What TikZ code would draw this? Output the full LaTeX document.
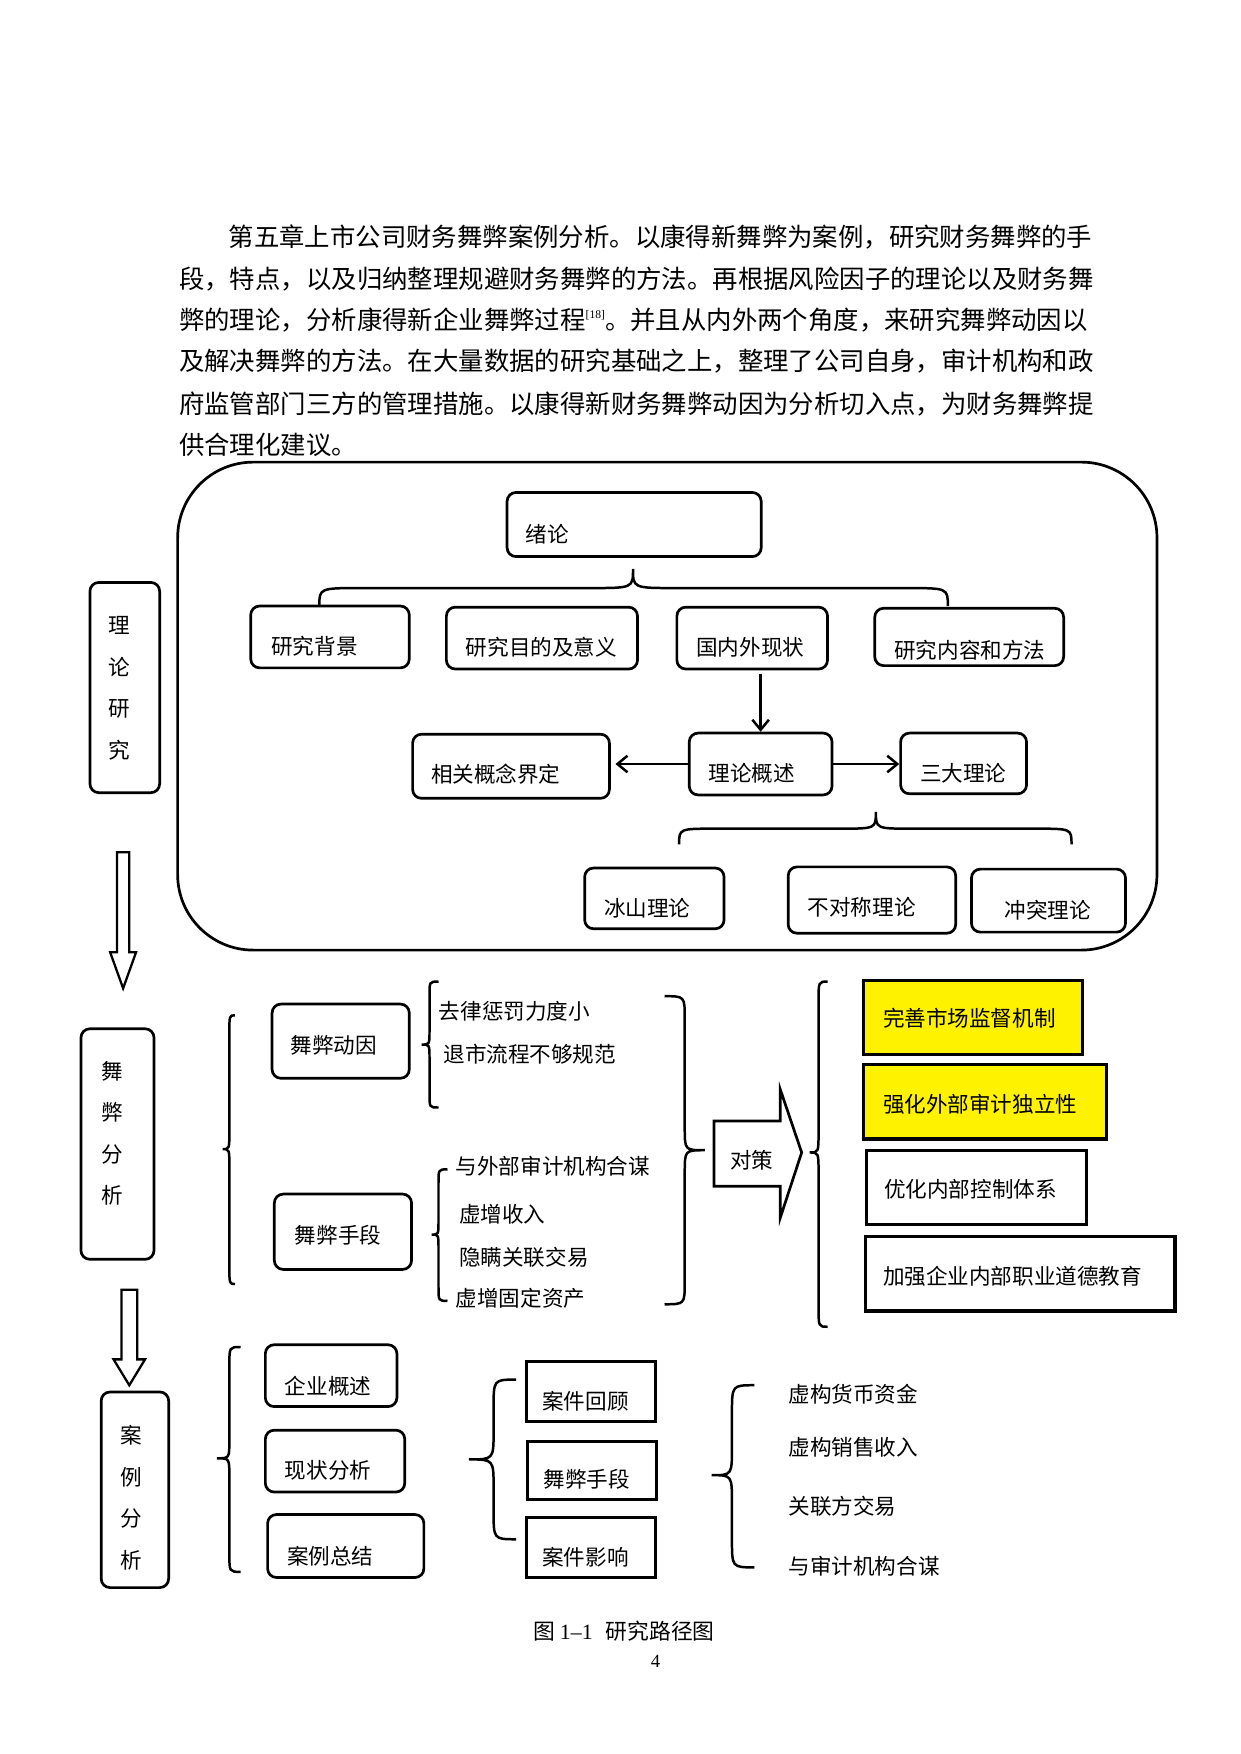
\documentclass[tikz,border=0pt]{standalone}
\usepackage{fontspec}
\setmainfont{Liberation Serif}
\newfontfamily\cjk{Noto Sans CJK SC}
\usetikzlibrary{arrows.meta,fit}
\newcommand{\vbrc}[7]{% end x, spine x, tip x, top y, tip y, bottom y, r
  \draw[brc] (#1,#4) .. controls (#2,#4) .. (#2,{#4+#7}) -- (#2,{#5-#7})
    .. controls (#2,#5) .. (#3,#5) .. controls (#2,#5) .. (#2,{#5+#7})
    -- (#2,{#6-#7}) .. controls (#2,#6) .. (#1,#6);}
\newcommand{\hbrc}[7]{% end y, spine y, tip y, left x, tip x, right x, r
  \draw[brc] (#4,#1) .. controls (#4,#2) .. ({#4+#7},#2) -- ({#5-#7},#2)
    .. controls (#5,#2) .. (#5,#3) .. controls (#5,#2) .. ({#5+#7},#2)
    -- ({#6-#7},#2) .. controls (#6,#2) .. (#6,#1);}
\tikzset{
  rbox/.style={draw, line width=1.3pt, rounded corners=1.5mm, inner sep=0pt},
  sbox/.style={draw, line width=1.5pt, inner sep=0pt},
  ybox/.style={sbox, fill=yellow},
  lbl/.style={font=\cjk\fontsize{10.4pt}{12pt}\selectfont, inner sep=0pt, anchor=base west, yshift=-1.39mm},
  vlbl/.style={font=\cjk\fontsize{10.4pt}{20pt}\selectfont, inner sep=0pt, align=center},
  para/.style={font=\cjk\fontsize{12.24pt}{14pt}\selectfont, inner sep=0pt, anchor=base west, yshift=-1.64mm},
  brc/.style={line width=1.2pt},
  arr/.style={line width=1.2pt, -{Straight Barb[length=1.7mm,width=2.8mm]}},
  hollow/.style={draw, line width=1.1pt, fill=white, line join=miter},
}
\begin{document}
\begin{tikzpicture}[x=0.1904mm, y=-0.1904mm]
\useasboundingbox (0,0) rectangle (1103,1560);

% paragraph
\node[para] (p1) at (203,211) {第五章上市公司财务舞弊案例分析。以康得新舞弊为案例，研究财务舞弊的手};
\node[para] (p2) at (159,248) {段，特点，以及归纳整理规避财务舞弊的方法。再根据风险因子的理论以及财务舞};
\node[para] (p3) at (159,284) {弊的理论，分析康得新企业舞弊过程\raisebox{0.75ex}{\rmfamily\fontsize{5.6pt}{6pt}\selectfont [18]}。并且从内外两个角度，来研究舞弊动因以};
\node[para] (p4) at (159,321) {及解决舞弊的方法。在大量数据的研究基础之上，整理了公司自身，审计机构和政};
\node[para] (p5) at (159,359) {府监管部门三方的管理措施。以康得新财务舞弊动因为分析切入点，为财务舞弊提};
\node[para] (p6) at (159,396) {供合理化建议。};

% big frame
\node[draw, line width=1.3pt, rounded corners=12.8mm, inner sep=0pt, fit={(158,411) (1029,845)}] (frame) {};

% left column
\node[rbox, fit={(80,518) (142,705)}] (L1) {};
\node[vlbl] (L1t) at (106,612) {理\\论\\研\\究};
\node[rbox, fit={(72,915) (137,1120)}] (L2) {};
\node[vlbl] (L2t) at (100,1008) {舞\\弊\\分\\析};
\node[rbox, fit={(90,1238) (150,1412)}] (L3) {};
\node[vlbl] (L3t) at (117,1332) {案\\例\\分\\析};
\draw[hollow] (104,758) -- (115,758) -- (115,847) -- (121,847) -- (109.5,879) -- (98,847) -- (104,847) -- cycle;
\draw[hollow] (108,1147) -- (122,1147) -- (122,1209) -- (129,1209) -- (115,1232) -- (101,1209) -- (108,1209) -- cycle;

% top section
\node[rbox, fit={(451,438) (677,495)}] (xl) {};
\node[lbl] (xlt) at (467,475) {绪论};
\hbrc{539}{523}{506}{284}{563}{843}{38}
\node[rbox, fit={(223,539) (364,594)}] (bj) {};
\node[lbl] (bjt) at (241,575) {研究背景};
\node[rbox, fit={(397,540) (567,595)}] (md) {};
\node[lbl] (mdt) at (414,576) {研究目的及意义};
\node[rbox, fit={(602,540) (736,595)}] (gn) {};
\node[lbl] (gnt) at (619,576) {国内外现状};
\node[rbox, fit={(778,541) (946,592)}] (nr) {};
\node[lbl] (nrt) at (795,578) {研究内容和方法};
\node[rbox, fit={(367,653) (542,710)}] (gx) {};
\node[lbl] (gxt) at (383,689) {相关概念界定};
\node[rbox, fit={(613,652) (740,707)}] (ll) {};
\node[lbl] (llt) at (630,688) {理论概述};
\node[rbox, fit={(801,652) (913,706)}] (sd) {};
\node[lbl] (sdt) at (818,688) {三大理论};
\draw[arr] ([yshift=-0.6mm]ll.north |- gn.south) -- (ll.north);
\draw[arr, shorten >=0.8mm] (ll.west) -- (ll.west -| gx.east);
\draw[arr] (ll.east) -- (ll.east -| sd.west);
\hbrc{751}{737}{722}{604}{779}{953}{32}
\node[rbox, fit={(520,772) (644,826)}] (bs) {};
\node[lbl] (bst) at (537,808) {冰山理论};
\node[rbox, fit={(701,771) (850,830)}] (bd) {};
\node[lbl] (bdt) at (718,807) {不对称理论};
\node[rbox, fit={(864,773) (1001,829)}] (ct) {};
\node[lbl] (ctt) at (893,810) {冲突理论};

% middle section
\vbrc{209}{204}{198}{903}{1022}{1142}{16}
\node[rbox, fit={(242,893) (364,959)}] (dy) {};
\node[lbl] (dyt) at (258,930) {舞弊动因};
\node[rbox, fit={(244,1062) (366,1129)}] (sdn) {};
\node[lbl] (sdnt) at (262,1099) {舞弊手段};
\vbrc{390}{382}{375}{873}{929}{985}{12}
\node[lbl] (a1) at (390,899) {去律惩罚力度小};
\node[lbl] (a2) at (394,938) {退市流程不够规范};
\vbrc{398}{390}{384}{1040}{1098}{1157}{12}
\node[lbl] (b1) at (405,1037) {与外部审计机构合谋};
\node[lbl] (b2) at (408,1080) {虚增收入};
\node[lbl] (b3) at (408,1118) {隐瞒关联交易};
\node[lbl] (b4) at (405,1155) {虚增固定资产};
\vbrc{591}{609}{627}{886}{1023}{1160}{20}
\draw[hollow, line width=1.3pt] (635,997) -- (694,997) -- (694,969) -- (713,1025) -- (694,1083) -- (694,1055) -- (635,1055) -- cycle;
\node[lbl] (dc) at (649,1032) {对策};
\vbrc{736}{728}{720}{873}{1025}{1180}{18}
\node[ybox, fit={(768,872) (963,938)}] (c1) {};
\node[lbl] (c1t) at (785,906) {完善市场监督机制};
\node[ybox, fit={(768,947) (984,1013)}] (c2) {};
\node[lbl] (c2t) at (785,982) {强化外部审计独立性};
\node[sbox, fit={(771,1023) (966,1089)}] (c3) {};
\node[lbl] (c3t) at (786,1058) {优化内部控制体系};
\node[sbox, fit={(770,1100) (1045,1166)}] (c4) {};
\node[lbl] (c4t) at (785,1135) {加强企业内部职业道德教育};

% bottom section
\vbrc{214}{204}{193}{1198}{1297}{1398}{16}
\node[rbox, fit={(236,1196) (353,1251)}] (qy) {};
\node[lbl] (qyt) at (253,1233) {企业概述};
\node[rbox, fit={(236,1272) (360,1327)}] (xz) {};
\node[lbl] (xzt) at (253,1308) {现状分析};
\node[rbox, fit={(238,1347) (377,1403)}] (zj) {};
\node[lbl] (zjt) at (255,1384) {案例总结};
\vbrc{459}{439}{417}{1227}{1298}{1369}{25}
\node[sbox, fit={(468,1211) (583,1264)}] (hg) {};
\node[lbl] (hgt) at (482,1246) {案件回顾};
\node[sbox, fit={(469,1282) (584,1334)}] (sd2) {};
\node[lbl] (sd2t) at (483,1316) {舞弊手段};
\node[sbox, fit={(468,1350) (583,1403)}] (yx) {};
\node[lbl] (yxt) at (482,1385) {案件影响};
\vbrc{671}{651}{633}{1232}{1312}{1394}{25}
\node[lbl] (d1) at (701,1240) {虚构货币资金};
\node[lbl] (d2) at (701,1287) {虚构销售收入};
\node[lbl] (d3) at (701,1340) {关联方交易};
\node[lbl] (d4) at (701,1393) {与审计机构合谋};

% caption
\node[font=\cjk\fontsize{10.5pt}{12pt}\selectfont, inner sep=0pt] (cap) at (555,1451) {图 {\rmfamily 1–1}\hspace{0.6em}研究路径图};
\node[font=\fontsize{9pt}{10pt}\selectfont, inner sep=0pt] (pg) at (583,1478) {4};
\end{tikzpicture}
\end{document}
